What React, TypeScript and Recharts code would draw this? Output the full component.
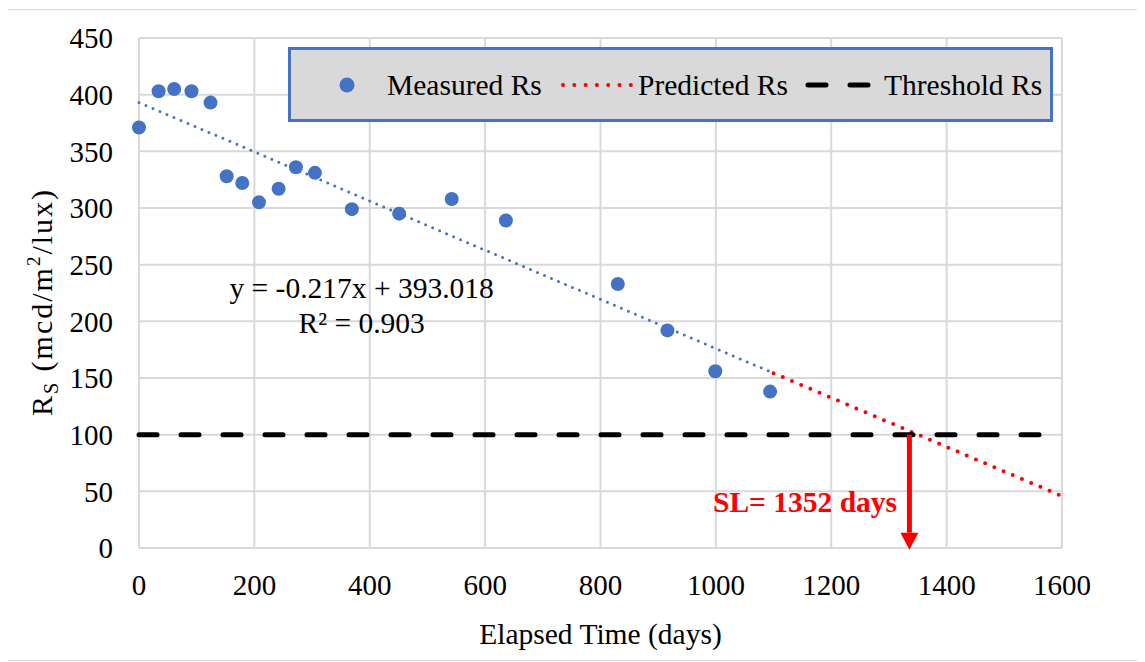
import { ScatterChart, Scatter, XAxis, YAxis, CartesianGrid, ReferenceLine, ReferenceDot, Label } from "recharts"

const FONT = "Liberation Serif, Times New Roman, Times, DejaVu Serif, serif"
const TEXT_SIZE = 29.5
const TICK_SIZE = 29

// measured retroreflectivity
const elapsedDays = [0, 34, 61, 91, 124, 152, 179, 208, 242, 272, 305, 369, 451, 542, 636, 830, 916, 999, 1094]
const measuredRs = [371, 403, 405, 403, 393, 328, 322, 305, 317, 336, 331, 299, 295, 308, 289, 233, 192, 156, 138]

const xTicks = [0, 200, 400, 600, 800, 1000, 1200, 1400, 1600]
const yTicks = [0, 50, 100, 150, 200, 250, 300, 350, 400, 450]

// linear fit y = -0.217x + 393.018 (end points)
const fitDays = [0, 1100]
const fitRs = [393.018, 154.3]
const predictedDays = [1100, 1600]
const predictedRs = [154.3, 45.8]

const thresholdRs = 100
const thresholdDays = [0, 1595]

const shelfLifeDay = 1335.5
const arrowRs = [100, 13.5]

const eqLines = ["y = -0.217x + 393.018", "R² = 0.903"]
const eqPos = { x: 386, y: 221 }
const slText = "SL= 1352 days"
const slPos = { x: 995, y: 32 }

const points = elapsedDays.map((d, i) => ({ x: d, y: measuredRs[i] }))

const txt = { fontFamily: FONT }

const YTitle = ({ viewBox }: any) => {
  const cx = viewBox.x + 45
  const cy = viewBox.y + viewBox.height / 2 + 9
  return (
    <text
      x={cx}
      y={cy}
      transform={`rotate(-90 ${cx} ${cy})`}
      textAnchor="middle"
      fontSize={30}
      letterSpacing={2}
      style={txt}
      fill="#000"
    >
      R<tspan fontSize={20} dy={6}>S</tspan>
      <tspan dy={-6}> (mcd/m</tspan>
      <tspan fontSize={19} dy={-12}>2</tspan>
      <tspan dy={12}>/lux)</tspan>
    </text>
  )
}

function LegendBox() {
  return (
    <svg width={765} height={76} style={{ position: "absolute", left: 281, top: 37 }}>
      <rect x={1.5} y={1.5} width={762} height={72} fill="#d9d9d9" stroke="#4472c4" strokeWidth={3} />
      <circle cx={59} cy={38} r={7.5} fill="#4472c4" />
      <text x={99} y={48} fontSize={TEXT_SIZE} style={txt} fill="#000">Measured Rs</text>
      <line x1={275} y1={38} x2={343} y2={38} stroke="#ff0000" strokeWidth={4} strokeDasharray="0 11.3" strokeLinecap="round" />
      <text x={350} y={48} fontSize={TEXT_SIZE} style={txt} fill="#000">Predicted Rs</text>
      <line x1={520} y1={38} x2={583} y2={38} stroke="#000" strokeWidth={5} strokeDasharray="18 24" strokeLinecap="round" />
      <text x={596} y={48} fontSize={TEXT_SIZE} style={txt} fill="#000">Threshold Rs</text>
    </svg>
  )
}

export default function App() {
  return (
    <div
      style={{
        position: "relative",
        width: 1138,
        height: 652,
        boxSizing: "border-box",
        border: "1px solid #d9d9d9",
        marginLeft: -2,
        marginTop: 1,
        fontFamily: FONT,
        background: "#fff",
      }}
    >
      <ScatterChart width={1136} height={650} margin={{ top: 28, right: 81, bottom: 0, left: 0 }} style={txt}>
        <CartesianGrid stroke="#d9d9d9" strokeWidth={2} />
        <XAxis
          type="number"
          dataKey="x"
          domain={[0, 1600]}
          ticks={xTicks}
          interval={0}
          height={112}
          tickLine={false}
          axisLine={{ stroke: "#d9d9d9", strokeWidth: 2 }}
          tickMargin={20}
          tick={{ fill: "#000", fontSize: TICK_SIZE, fontFamily: FONT }}
        >
          <Label value="Elapsed Time (days)" position="insideBottom" offset={16} fontSize={TEXT_SIZE} fontFamily={FONT} fill="#000" />
        </XAxis>
        <YAxis
          type="number"
          dataKey="y"
          domain={[0, 450]}
          ticks={yTicks}
          interval={0}
          width={132}
          tickLine={false}
          axisLine={false}
          tickMargin={20}
          tick={{ fill: "#000", fontSize: TICK_SIZE, fontFamily: FONT }}
        >
          <Label content={YTitle} />
        </YAxis>

        <ReferenceLine
          segment={[{ x: fitDays[0], y: fitRs[0] }, { x: fitDays[1], y: fitRs[1] }]}
          stroke="#4472c4"
          strokeWidth={3}
          strokeDasharray="0 7.6"
          strokeLinecap="round"
        />
        <ReferenceLine
          segment={[{ x: predictedDays[0], y: predictedRs[0] }, { x: predictedDays[1], y: predictedRs[1] }]}
          stroke="#ff0000"
          strokeWidth={4}
          strokeDasharray="0 10"
          strokeLinecap="round"
        />
        <ReferenceLine
          segment={[{ x: thresholdDays[0], y: thresholdRs }, { x: thresholdDays[1], y: thresholdRs }]}
          stroke="#000"
          strokeWidth={5}
          strokeDasharray="18 24"
          strokeLinecap="round"
        />
        <ReferenceLine
          segment={[{ x: shelfLifeDay, y: arrowRs[0] }, { x: shelfLifeDay, y: arrowRs[1] }]}
          stroke="#ff0000"
          strokeWidth={5}
        />
        <ReferenceDot
          x={shelfLifeDay}
          y={arrowRs[1]}
          r={0}
          shape={(p: any) => (
            <polygon points={`${p.cx - 9},${p.cy} ${p.cx + 9},${p.cy} ${p.cx},${p.cy + 17}`} fill="#ff0000" />
          )}
        />

        <Scatter
          data={points}
          isAnimationActive={false}
          fill="#4472c4"
          shape={(p: any) => <circle cx={p.cx} cy={p.cy} r={7} fill="#4472c4" />}
        />

        <ReferenceDot
          x={eqPos.x}
          y={eqPos.y}
          r={0}
          shape={(p: any) => (
            <text x={p.cx} y={p.cy} textAnchor="middle" fontSize={TEXT_SIZE} style={txt} fill="#000">
              <tspan x={p.cx}>{eqLines[0]}</tspan>
              <tspan x={p.cx} dy={35}>{eqLines[1]}</tspan>
            </text>
          )}
        />
        <ReferenceDot
          x={slPos.x}
          y={slPos.y}
          r={0}
          shape={(p: any) => (
            <text x={p.cx} y={p.cy} fontSize={TEXT_SIZE} fontWeight="bold" style={txt} fill="#ff0000">
              {slText}
            </text>
          )}
        />
      </ScatterChart>
      <LegendBox />
    </div>
  )
}
